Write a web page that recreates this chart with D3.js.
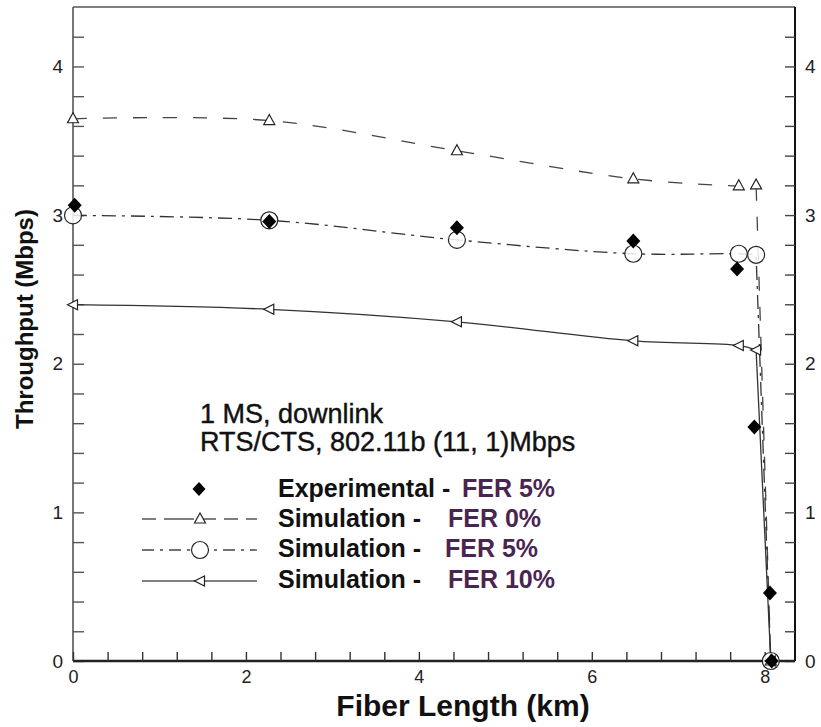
<!DOCTYPE html>
<html>
<head>
<meta charset="utf-8">
<script src="https://cdn.jsdelivr.net/npm/d3@7/dist/d3.min.js"></script>
<style>
  html, body { margin: 0; padding: 0; background: #fff; }
  svg { display: block; font-family: "Liberation Sans", Arial, sans-serif; }
</style>
</head>
<body>
<svg id="chart" width="821" height="727"></svg>
<script>
// ---- data ----
const simX   = [0, 2.27, 4.44, 6.48, 7.70, 7.90, 8.07];
const fer0   = [3.648, 3.636, 3.433, 3.244, 3.197, 3.203, 0];
const fer5   = [2.998, 2.965, 2.833, 2.740, 2.740, 2.733, 0];
const fer10  = [2.397, 2.366, 2.282, 2.154, 2.123, 2.092, 0];
const expX   = [0.02, 2.27, 4.44, 6.48, 7.68, 7.88, 8.06, 8.08];
const expY   = [3.066, 2.957, 2.914, 2.826, 2.637, 1.575, 0.458, 0];

const xMajorTicks = [0, 2, 4, 6, 8];
const yMajorTicks = [0, 1, 2, 3, 4];
const xTitle = "Fiber Length (km)";
const yTitle = "Throughput (Mbps)";
const noteLines = ["1 MS, downlink", "RTS/CTS, 802.11b (11, 1)Mbps"];
const legendNames = ["Experimental -", "Simulation -", "Simulation -", "Simulation -"];
const legendFER   = ["FER 5%", "FER 0%", "FER 5%", "FER 10%"];

// ---- layout ----
const svg = d3.select("#chart");
const W = 821, H = 727;
const m = { left: 73, right: 26, top: 7, bottom: 66 };
const x = d3.scaleLinear().domain([0, 8.35]).range([m.left, W - m.right]);
const y = d3.scaleLinear().domain([0, 4.4]).range([H - m.bottom, m.top]);

const xMinor = d3.range(0, 8.01, 0.4).map(v => +v.toFixed(2));
const yMinor = d3.range(0, 4.21, 0.2).map(v => +v.toFixed(2));
const isMajor = (arr, v) => arr.some(t => Math.abs(t - v) < 1e-6);

// frame: top border
svg.append("line").attr("x1", x(0)).attr("x2", x(8.35)).attr("y1", y(4.4)).attr("y2", y(4.4))
  .attr("stroke", "#555").attr("stroke-width", 1.5);

// left axis
const gL = svg.append("g").attr("transform", `translate(${x(0)},0)`)
  .call(d3.axisLeft(y).tickValues(yMinor).tickSize(-11).tickPadding(10)
    .tickFormat(d => isMajor(yMajorTicks, d) ? d3.format("d")(d) : ""));
gL.select(".domain").attr("stroke", "#555").attr("stroke-width", 1.6).attr("d", `M0,${y(0)}V${y(4.4)}`);
gL.selectAll(".tick line").attr("stroke", "#555").attr("stroke-width", 1.4);
gL.selectAll(".tick text").attr("font-size", 19).attr("fill", "#222");

// right axis
const gR = svg.append("g").attr("transform", `translate(${x(8.35)},0)`)
  .call(d3.axisRight(y).tickValues(yMinor).tickSize(-10).tickPadding(10)
    .tickFormat(d => isMajor(yMajorTicks, d) ? d3.format("d")(d) : ""));
gR.select(".domain").attr("stroke", "#111").attr("stroke-width", 2).attr("d", `M0,${y(0)}V${y(4.4)}`);
gR.selectAll(".tick line").attr("stroke", "#444").attr("stroke-width", 1.4);
gR.selectAll(".tick text").attr("font-size", 19).attr("fill", "#222");

// bottom axis
const gB = svg.append("g").attr("transform", `translate(0,${y(0)})`)
  .call(d3.axisBottom(x).tickValues(xMinor).tickSize(-9).tickPadding(9)
    .tickFormat(d => isMajor(xMajorTicks, d) ? d3.format("d")(d) : ""));
gB.select(".domain").attr("stroke", "#222").attr("stroke-width", 2.4).attr("d", `M${x(0)},0H${x(8.35)}`);
gB.selectAll(".tick line").attr("stroke", "#333").attr("stroke-width", 1.4);
gB.selectAll(".tick text").attr("font-size", 18).attr("fill", "#222");

// axis titles
svg.append("text").attr("x", 463).attr("y", 716).attr("text-anchor", "middle")
  .attr("font-size", 30).attr("font-weight", "bold").attr("fill", "#111").text(xTitle);
svg.append("text").attr("transform", "translate(33,319) rotate(-90)").attr("text-anchor", "middle")
  .attr("font-size", 24).attr("font-weight", "bold").attr("fill", "#111").text(yTitle);

// ---- lines ----
const pts = ys => simX.map((v, i) => [v, ys[i]]);
const smooth = d3.line().x(d => x(d[0])).y(d => y(d[1])).curve(d3.curveCatmullRom.alpha(0.5));
const seriesPath = ys => {
  const p = pts(ys);
  const last = p[p.length - 1];
  return smooth(p.slice(0, p.length - 1)) + "L" + x(last[0]) + "," + y(last[1]);
};
const plot = svg.append("g");
plot.append("path").attr("d", seriesPath(fer0)).attr("fill", "none")
  .attr("stroke", "#444").attr("stroke-width", 1.3).attr("stroke-dasharray", "14,16");
plot.append("path").attr("d", seriesPath(fer5)).attr("fill", "none")
  .attr("stroke", "#333").attr("stroke-width", 1.3).attr("stroke-dasharray", "14,6,3,6");
plot.append("path").attr("d", seriesPath(fer10)).attr("fill", "none")
  .attr("stroke", "#333").attr("stroke-width", 1.3);

// ---- markers ----
const triUp = "M0,-6L5.5,4L-5.5,4Z";
const triLeft = "M-5.5,0L4.5,-5L4.5,5Z";
const diamond = "M0,-7.5L7,0L0,7.5L-7,0Z";

plot.selectAll(".c5").data(pts(fer5)).join("circle")
  .attr("cx", d => x(d[0])).attr("cy", d => y(d[1])).attr("r", 8.5)
  .attr("fill", "#fff").attr("fill-opacity", 0.85).attr("stroke", "#222").attr("stroke-width", 1.2);
plot.selectAll(".t0").data(pts(fer0)).join("path")
  .attr("transform", d => `translate(${x(d[0])},${y(d[1])})`).attr("d", triUp)
  .attr("fill", "#fff").attr("stroke", "#222").attr("stroke-width", 1.2);
plot.selectAll(".t10").data(pts(fer10)).join("path")
  .attr("transform", d => `translate(${x(d[0])},${y(d[1])})`).attr("d", triLeft)
  .attr("fill", "#fff").attr("stroke", "#222").attr("stroke-width", 1.2);
plot.selectAll(".dx").data(expX.map((v, i) => [v, expY[i]])).join("path")
  .attr("transform", d => `translate(${x(d[0])},${y(d[1])})`).attr("d", diamond)
  .attr("fill", "#000");

// ---- annotation ----
svg.append("text").attr("font-size", 27).attr("fill", "#111")
  .attr("stroke", "#111").attr("stroke-width", 0.4)
  .selectAll("tspan").data(noteLines).join("tspan")
  .attr("x", 200).attr("y", (d, i) => 423 + i * 28).text(d => d);

// ---- legend ----
const lg = svg.append("g");
const rowY = [489, 519, 550, 581];
const textY = [497, 527, 557, 588];
const ferX = [462, 448, 445, 448];
// symbols
lg.append("path").attr("transform", `translate(199,${rowY[0]})`).attr("d", "M0,-7L6.5,0L0,7L-6.5,0Z").attr("fill", "#000");
lg.append("line").attr("x1", 142).attr("x2", 257).attr("y1", rowY[1]).attr("y2", rowY[1])
  .attr("stroke", "#555").attr("stroke-width", 1.3).attr("stroke-dasharray", "14,8,30,8,14,8");
lg.append("path").attr("transform", `translate(200,${rowY[1]})`).attr("d", triUp)
  .attr("fill", "#fff").attr("stroke", "#222").attr("stroke-width", 1.2);
lg.append("line").attr("x1", 142).attr("x2", 257).attr("y1", rowY[2]).attr("y2", rowY[2])
  .attr("stroke", "#444").attr("stroke-width", 1.3).attr("stroke-dasharray", "12,6,3,6");
lg.append("circle").attr("cx", 200).attr("cy", rowY[2]).attr("r", 8.5)
  .attr("fill", "#fff").attr("stroke", "#222").attr("stroke-width", 1.2);
lg.append("line").attr("x1", 142).attr("x2", 257).attr("y1", rowY[3]).attr("y2", rowY[3])
  .attr("stroke", "#555").attr("stroke-width", 1.4);
lg.append("path").attr("transform", `translate(200,${rowY[3]})`).attr("d", triLeft)
  .attr("fill", "#fff").attr("stroke", "#222").attr("stroke-width", 1.2);
// labels
legendNames.forEach((n, i) => {
  const t = lg.append("text").attr("y", textY[i]).attr("font-size", 25).attr("font-weight", "bold");
  t.append("tspan").attr("x", 278).attr("fill", "#111").text(n);
  t.append("tspan").attr("x", ferX[i]).attr("fill", "#4a2552").text(legendFER[i]);
});
</script>
</body>
</html>
